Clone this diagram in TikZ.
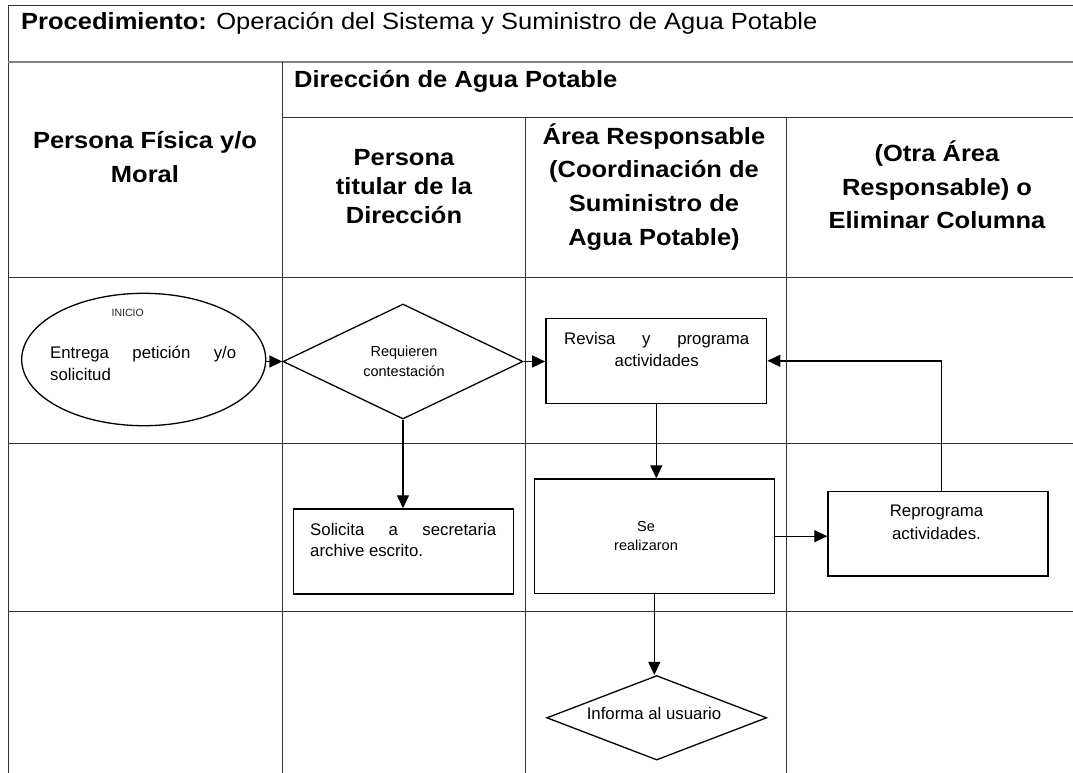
\documentclass[tikz,border=0pt]{standalone}
\usepackage{fontspec}
\setmainfont{Liberation Sans}
\newfontfamily\hdrfont{Liberation Sans}[FakeStretch=1.09]
\usetikzlibrary{shapes.geometric,arrows.meta}
\hyphenpenalty=10000
\exhyphenpenalty=10000
\begin{document}
\begin{tikzpicture}[x=1pt,y=-1pt,
  tline/.style={draw=black!80, line width=1pt},
  tlinegray/.style={draw=black!50, line width=1.4pt},
  shapebox/.style={draw=black, line width=1.5pt, rectangle, inner sep=0pt},
  decision/.style={draw=black, line width=1.3pt, diamond, inner sep=0pt},
  flow/.style={draw=black, line width=1.4pt, -{Triangle[length=13pt,width=12pt]}},
  hdr/.style={inner sep=0pt, anchor=base, font=\hdrfont\bfseries\fontsize{23.4}{34}\selectfont},
  titletxt/.style={inner sep=0pt, anchor=base west, font=\hdrfont\fontsize{23.4}{28}\selectfont},
  txtbig/.style={inner sep=0pt, font=\fontsize{16.8}{22.6}\selectfont},
  txtsmall/.style={inner sep=0pt, font=\fontsize{14.5}{19.5}\selectfont},
]
\useasboundingbox (0,0) rectangle (1073,773);
\fill[white] (0,0) rectangle (1073,773);

% table grid
\draw[tline] (8,5.3) -- (1073,5.3);
\draw[tline] (8,5.3) -- (8,773);
\draw[tlinegray] (8,62) -- (1073,62);
\draw[tline] (282,62) -- (282,773);
\draw[tline] (282,118) -- (1073,118);
\draw[tline] (8,277) -- (1073,277);
\draw[tline] (525,118) -- (525,773);
\draw[tline] (786.5,118) -- (786.5,773);
\draw[tline] (8,443.3) -- (1073,443.3);
\draw[tline] (8,611) -- (1073,611);

% headers
\node[titletxt] (title) at (21,29.5) {{\bfseries Procedimiento:} Operación del Sistema y Suministro de Agua Potable};
\node[hdr, anchor=base west] (hDir) at (294,87.3) {Dirección de Agua Potable};
\node[hdr] (hPF) at (145,148.3) {\parbox[t]{260pt}{\centering\baselineskip=34.4pt Persona Física y/o\\Moral}};
\node[hdr] (hTit) at (404,165.7) {\parbox[t]{230pt}{\centering\baselineskip=28.8pt Persona\\titular de la\\Dirección}};
\node[hdr] (hArea) at (654,144) {\parbox[t]{250pt}{\centering\baselineskip=33.9pt Área Responsable\\(Coordinación de\\Suministro de\\Agua Potable)}};
\node[hdr] (hOtra) at (937,161.7) {\parbox[t]{260pt}{\centering\baselineskip=33.3pt (Otra Área\\Responsable) o\\Eliminar Columna}};

% shapes
\node[ellipse, draw=black, line width=1.3pt, minimum width=244pt, minimum height=132.4pt, inner sep=0pt] (inicio) at (143.7,359.5) {};
\node[inner sep=0pt, anchor=base, font=\fontsize{10.5}{12}\selectfont, text=black!85] (tInicio) at (127.7,316) {INICIO};
\node[txtbig, anchor=base west] (tEntrega) at (50,358.3) {\parbox[t]{186pt}{Entrega petición y/o\linebreak solicitud}};

\node[decision, minimum width=240pt, minimum height=115pt] (dec) at (403,361.5) {};
\node[txtsmall, anchor=base] (tDec) at (404,356) {\parbox[t]{120pt}{\centering\baselineskip=20pt Requieren\\contestación}};

\node[shapebox, minimum width=220.7pt, minimum height=85pt] (revisa) at (656.3,360.8) {};
\node[txtbig, anchor=base west] (tRevisa) at (564,344) {\parbox[t]{185pt}{\leftskip=0pt plus 1fil\rightskip=0pt plus -1fil\parfillskip=0pt plus 2fil Revisa y programa\linebreak actividades}};

\node[shapebox, minimum width=220pt, minimum height=85pt] (sol) at (403.3,551.5) {};
\node[txtbig, anchor=base west] (tSol) at (310,535) {\parbox[t]{186pt}{\baselineskip=21.7pt Solicita a secretaria\linebreak archive escrito.}};

\node[shapebox, minimum width=240pt, minimum height=114.3pt] (se) at (654.3,536.2) {};
\node[txtsmall, anchor=base] (tSe) at (646,531.7) {\parbox[t]{100pt}{\centering\baselineskip=19pt Se\\realizaron}};

\node[shapebox, minimum width=220pt, minimum height=84.3pt] (repro) at (938,533.8) {};
\node[txtbig, anchor=base] (tRepro) at (936.5,516.7) {\parbox[t]{150pt}{\centering Reprograma\\actividades.}};

\node[decision, minimum width=220pt, minimum height=84.5pt] (informa) at (656.7,717.8) {};
\node[txtbig, anchor=base] (tInforma) at (654,719.3) {Informa al usuario};

% connectors
\draw[flow] (inicio.east |- dec.west) -- (dec.west);
\draw[flow] (dec.east) -- (dec.east -| revisa.west);
\draw[flow] (dec.south) -- (dec.south |- sol.north);
\draw[flow] (revisa.south) -- (revisa.south |- se.north);
\draw[flow] (se.east) -- (se.east -| repro.west);
\draw[flow] ([xshift=3.7pt]repro.north) |- (revisa.east);
\draw[flow] (se.south) -- (se.south |- informa.north);
\end{tikzpicture}
\end{document}
